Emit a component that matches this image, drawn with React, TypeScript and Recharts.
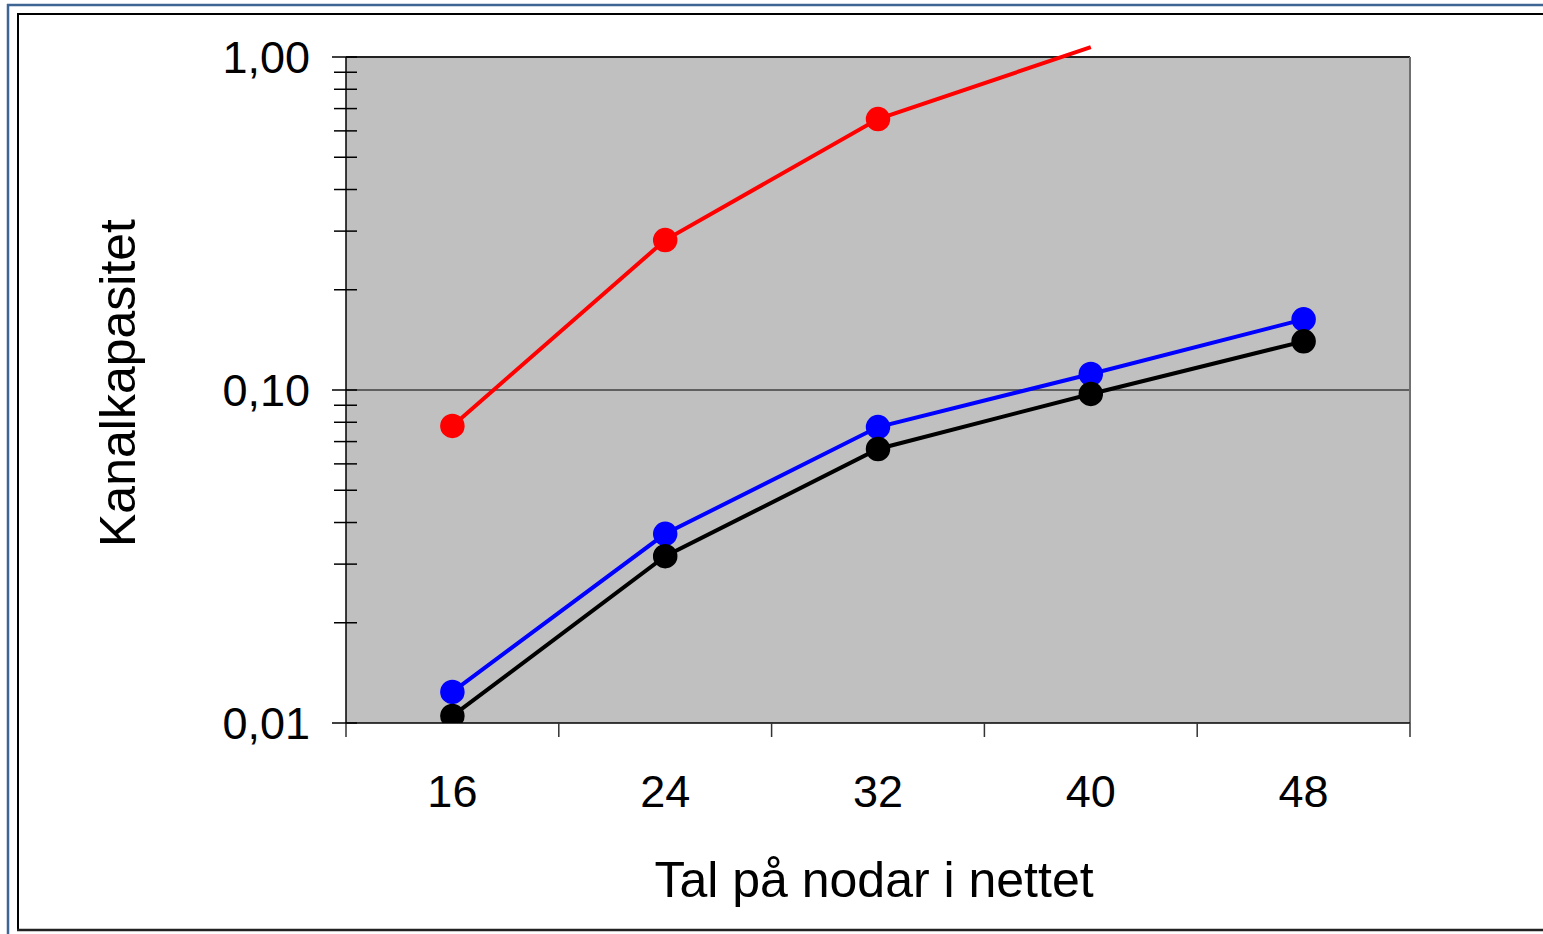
import { LineChart, Line, XAxis, YAxis, CartesianGrid, ReferenceLine } from 'recharts';

// number of nodes in the net (x categories)
const nodes = [16, 24, 32, 40, 48];

// channel capacity per series
// (red leaves the plot after 40, nothing is drawn for it at 48)
const redValues = [0.078, 0.282, 0.651, 1.07, null];
const blueValues = [0.0124, 0.037, 0.0774, 0.1117, 0.163];
const blackValues = [0.0105, 0.0317, 0.0665, 0.0973, 0.14];

// axis ticks
const xBoundaryTicks = [12, 20, 28, 36, 44, 52];
const yMajorTicks = [0.01, 0.1, 1];
const yMinorTicks = [0.02, 0.03, 0.04, 0.05, 0.06, 0.07, 0.08, 0.09, 0.2, 0.3, 0.4, 0.5, 0.6, 0.7, 0.8, 0.9];
const yTickLabels = ['0,01', '0,10', '1,00'];

const FONT = '"Liberation Sans", Arial, sans-serif';

const data = nodes.map((n, i) => ({
  n,
  red: redValues[i],
  blue: blueValues[i],
  black: blackValues[i],
}));

function YTick(props: any) {
  const { x, y, payload } = props;
  const idx = yMajorTicks.indexOf(payload.value);
  const major = idx >= 0;
  return (
    <g>
      <line x1={x - (major ? 14 : 12)} x2={x + 11} y1={y} y2={y} stroke="#000" strokeWidth={1.5} />
      {major && (
        <text x={x - 36} y={y} dy="0.36em" textAnchor="end" fontFamily={FONT} fontSize={45} fill="#000">
          {yTickLabels[idx]}
        </text>
      )}
    </g>
  );
}

function XTick(props: any) {
  const { x, y, payload } = props;
  if (xBoundaryTicks.includes(payload.value)) {
    return <line x1={x} x2={x} y1={y} y2={y + 14} stroke="#333" strokeWidth={1.5} />;
  }
  return (
    <text x={x} y={y + 84} textAnchor="middle" fontFamily={FONT} fontSize={45} fill="#000">
      {payload.value}
    </text>
  );
}

// markers outside the plot area are not drawn
function makeDot(color: string) {
  return (p: any) => {
    if (p.value == null || p.value > 1) return <g key={`d-${color}-${p.index}`} />;
    return <circle key={`d-${color}-${p.index}`} cx={p.cx} cy={p.cy} r={11.5} fill={color} stroke={color} strokeWidth={1.5} />;
  };
}

export default function App() {
  const xTicks = [...xBoundaryTicks, ...nodes].sort((a, b) => a - b);
  const yTicks = [...yMajorTicks, ...yMinorTicks].sort((a, b) => a - b);

  return (
    <div style={{ position: 'absolute', left: 0, top: 0, width: 1543, height: 934, overflow: 'hidden', background: '#fff' }}>
      <style>{'.red-line g, .red-line path { clip-path: none !important; }'}</style>
      <svg width={1543} height={934} style={{ position: 'absolute', left: 0, top: 0 }}>
        {/* outer blue frame */}
        <line x1={7} x2={1543} y1={5} y2={5} stroke="#3E6594" strokeWidth={2.5} />
        <line x1={8} x2={8} y1={4} y2={934} stroke="#3E6594" strokeWidth={2.5} />
        {/* inner black frame */}
        <line x1={17} x2={1543} y1={14} y2={14} stroke="#000" strokeWidth={2} />
        <line x1={18} x2={18} y1={13} y2={931} stroke="#000" strokeWidth={2} />
        <line x1={17} x2={1543} y1={930} y2={930} stroke="#222" strokeWidth={2.5} />
        <text x={874} y={897} textAnchor="middle" fontFamily={FONT} fontSize={50} fill="#000">
          Tal på nodar i nettet
        </text>
        <text transform="translate(135,383) rotate(-90)" textAnchor="middle" fontFamily={FONT} fontSize={50} fill="#000">
          Kanalkapasitet
        </text>
      </svg>
      <div style={{ position: 'absolute', left: 0, top: 0 }}>
        <LineChart width={1543} height={934} data={data} margin={{ top: 57, right: 133, left: 0, bottom: 111 }}>
          <CartesianGrid horizontal={false} vertical={false} fill="#C0C0C0" />
          <XAxis
            dataKey="n"
            type="number"
            domain={[12, 52]}
            ticks={xTicks}
            interval={0}
            height={100}
            tickSize={0}
            tickMargin={0}
            tick={<XTick />}
            tickLine={false}
            axisLine={{ stroke: '#000', strokeWidth: 1.5 }}
          />
          <YAxis
            scale="log"
            domain={[0.01, 1]}
            allowDataOverflow
            ticks={yTicks}
            interval={0}
            width={346}
            tickSize={0}
            tickMargin={0}
            tick={<YTick />}
            tickLine={false}
            axisLine={{ stroke: '#000', strokeWidth: 1.5 }}
          />
          <ReferenceLine y={0.1} stroke="#000" strokeWidth={1} />
          <ReferenceLine y={1} stroke="#222" strokeWidth={2} />
          <ReferenceLine x={52} stroke="#707070" strokeWidth={2} />
          <Line
            className="red-line"
            dataKey="red"
            stroke="#FF0000"
            strokeWidth={4}
            dot={makeDot('#FF0000')}
            isAnimationActive={false}
          />
          <Line
            dataKey="blue"
            stroke="#0000FF"
            strokeWidth={4}
            dot={makeDot('#0000FF')}
            isAnimationActive={false}
          />
          <Line
            dataKey="black"
            stroke="#000000"
            strokeWidth={4}
            dot={makeDot('#000000')}
            isAnimationActive={false}
          />
        </LineChart>
      </div>
    </div>
  );
}
